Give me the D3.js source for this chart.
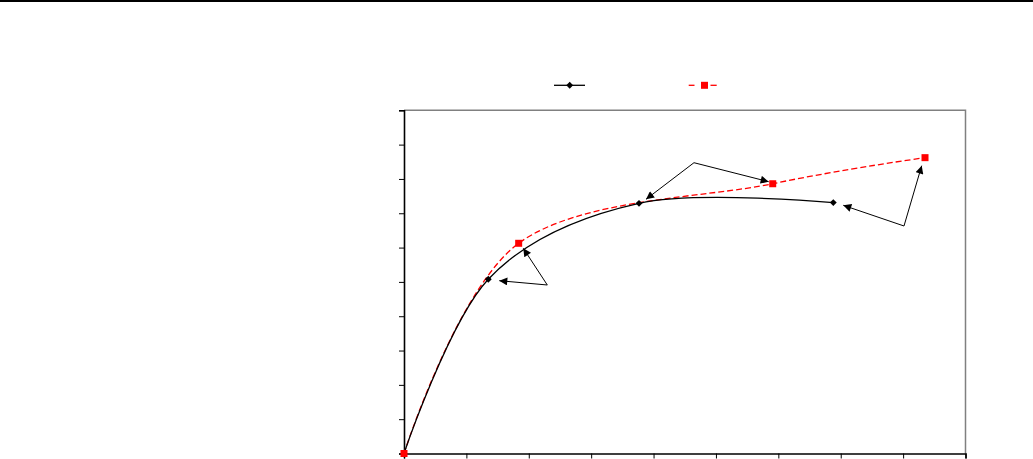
<!DOCTYPE html>
<html><head><meta charset="utf-8">
<script src="https://cdn.jsdelivr.net/npm/d3@7"></script>
<style>html,body{margin:0;padding:0;background:#fff;overflow:hidden}</style>
</head><body>
<svg id="c" width="1033" height="459"></svg>
<script>
// Data (x and y in axis units, no labels shown)
const seriesNames = ["Series A", "Series B"];
const blackX = [0, 1.351, 3.767, 6.881];
const blackY = [0, 5.076, 7.29, 7.31];
const redX = [0, 1.838, 5.91, 8.351];
const redY = [0, 6.125, 7.86, 8.62];
const xTicks = [0,1,2,3,4,5,6,7,8,9];
const yTicks = [0,1,2,3,4,5,6,7,8,9,10];
// annotation arrows: [tailX, tailY, tipX, tipY]
const arrows = [
  [2.297, 4.91, 1.527, 5.035],
  [2.297, 4.91, 1.912, 5.979],
  [4.648, 8.473, 3.879, 7.407],
  [4.648, 8.473, 5.845, 7.92],
  [8.014, 6.629, 7.041, 7.232],
  [8.014, 6.629, 8.298, 8.386]
];

const svg = d3.select("#c");
const L = 404, R = 965.5, T = 110.3, B = 453.5;
const x = d3.scaleLinear().domain([0, 9]).range([L, R]);
const y = d3.scaleLinear().domain([0, 10]).range([B, T]);

// top rule
svg.append("rect").attr("x", 0).attr("y", 0).attr("width", 1033).attr("height", 2).attr("fill", "#000");

// plot frame (gray top/right)
svg.append("path").attr("d", `M${L},${T}H${R}V${B}`).attr("fill", "none").attr("stroke", "#808080").attr("stroke-width", 1.5);

// axes
const xAxis = svg.append("g").attr("transform", `translate(0,${B})`)
  .call(d3.axisBottom(x).tickValues(xTicks).tickSize(5).tickFormat(""));
const yAxis = svg.append("g").attr("transform", `translate(${L},0)`)
  .call(d3.axisLeft(y).tickValues(yTicks).tickSize(5).tickFormat(""));
[xAxis, yAxis].forEach(g => {
  g.select(".domain").attr("stroke", "#000").attr("stroke-width", 1.6);
  g.selectAll(".tick line").attr("stroke", "#000").attr("stroke-width", 1);
});

const line = d3.line().x(d => x(d[0])).y(d => y(d[1])).curve(d3.curveCatmullRom.alpha(0));
const blackPts = blackX.map((v, i) => [v, blackY[i]]);
const redPts = redX.map((v, i) => [v, redY[i]]);

svg.append("path").datum(redPts).attr("d", line).attr("fill", "none").attr("stroke", "#ff0000").attr("stroke-width", 1.3).attr("stroke-dasharray", "6,3");
svg.append("path").datum(blackPts).attr("d", line).attr("fill", "none").attr("stroke", "#000").attr("stroke-width", 1.3);

const diamond = d3.symbol().type(d3.symbolDiamond2).size(30);
svg.selectAll(".bm").data(blackPts).join("path")
  .attr("transform", d => `translate(${x(d[0])},${y(d[1])})`).attr("d", diamond).attr("fill", "#000");
svg.selectAll(".rm").data(redPts).join("rect")
  .attr("x", d => x(d[0]) - 3.5).attr("y", d => y(d[1]) - 3.5).attr("width", 7).attr("height", 7).attr("fill", "#ff0000");

// arrows
const defs = svg.append("defs");
defs.append("marker").attr("id", "ah").attr("viewBox", "0 0 10 10").attr("refX", 10).attr("refY", 5)
  .attr("markerWidth", 10).attr("markerHeight", 8).attr("markerUnits", "userSpaceOnUse").attr("orient", "auto")
  .append("path").attr("d", "M0,0L10,5L0,10Z").attr("fill", "#000");
svg.selectAll(".ar").data(arrows).join("line")
  .attr("x1", d => x(d[0])).attr("y1", d => y(d[1])).attr("x2", d => x(d[2])).attr("y2", d => y(d[3]))
  .attr("stroke", "#000").attr("stroke-width", 1).attr("marker-end", "url(#ah)");

// legend (symbols only)
const lg = svg.append("g");
lg.append("line").attr("x1", 554).attr("x2", 585).attr("y1", 85.3).attr("y2", 85.3).attr("stroke", "#000").attr("stroke-width", 1.3);
lg.append("path").attr("transform", "translate(569.7,85.3)").attr("d", diamond).attr("fill", "#000");
[[688.7, 694.5], [710.5, 716.7]].forEach(s => {
  lg.append("line").attr("x1", s[0]).attr("x2", s[1]).attr("y1", 85.3).attr("y2", 85.3).attr("stroke", "#ff0000").attr("stroke-width", 1.3);
});
lg.append("rect").attr("x", 701).attr("y", 81.8).attr("width", 7).attr("height", 7).attr("fill", "#ff0000");
</script>
</body></html>
